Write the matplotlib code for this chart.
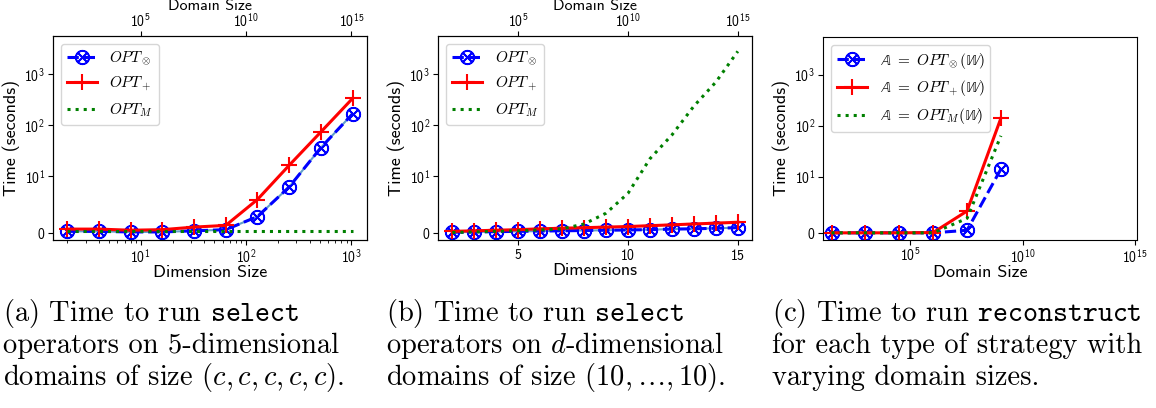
import numpy as np
import matplotlib
matplotlib.use('Agg')
import matplotlib.pyplot as plt
from matplotlib.ticker import FixedLocator, NullLocator

plt.rcParams['mathtext.fontset'] = 'cm'
plt.rcParams['axes.formatter.use_mathtext'] = True
plt.rcParams['font.family'] = ['cmss10', 'DejaVu Sans']
plt.rcParams['axes.unicode_minus'] = False

# (a) select on 5-dim domains of size (c,c,c,c,c)
dim_size = [2, 4, 8, 16, 32, 64, 128, 256, 512, 1024]
a_kron = [0.3, 0.3, 0.2, 0.2, 0.4, 0.6, 2.9, 8.1, 36, 165]
a_plus = [0.7, 0.7, 0.5, 0.6, 1.05, 1.35, 5.9, 16.3, 73, 330]
a_marg = [0.3, 0.3, 0.3, 0.3, 0.3, 0.3, 0.3, 0.3, 0.3, 0.3]

# (b) select on d-dim domains of size (10,...,10)
dims = [2, 3, 4, 5, 6, 7, 8, 9, 10, 11, 12, 13, 14, 15]
b_kron = [0.15, 0.2, 0.25, 0.3, 0.35, 0.4, 0.45, 0.5, 0.55, 0.6, 0.7, 0.75, 0.85, 0.95]
b_plus = [0.3, 0.4, 0.5, 0.6, 0.75, 0.85, 0.95, 1.05, 1.15, 1.3, 1.45, 1.6, 1.75, 1.9]
b_marg = [0.1, 0.2, 0.3, 0.4, 0.55, 0.75, 1.6, 3.5, 7.0, 22, 64, 234, 690, 2750]

# (c) reconstruct
dom_size = [2**5, 2**10, 2**15, 2**20, 2**25, 2**30]
c_kron = [0.05, 0.05, 0.05, 0.05, 0.5, 14]
c_plus = [0.05, 0.05, 0.05, 0.1, 3.9, 140]
c_marg = [0.05, 0.05, 0.05, 0.05, 2.6, 63]

blue, red, green = '#0000ff', '#ff0000', 'green'
otimes = r'$\otimes$'
YLIM = (-1.2, 5500)
LBL = 13

fig = plt.figure(figsize=(11.56, 4.08), dpi=100)
axa = fig.add_axes([0.0458, 0.412, 0.2715, 0.5])
axb = fig.add_axes([0.379, 0.412, 0.2716, 0.5])
axc = fig.add_axes([0.712, 0.412, 0.2716, 0.4975])


def style(ax):
    ax.set_yscale('symlog', linthresh=10)
    ax.set_ylim(*YLIM)
    ax.yaxis.set_major_locator(FixedLocator([0, 10, 100, 1000]))
    ax.yaxis.set_minor_locator(NullLocator())
    ax.set_ylabel('Time (seconds)', fontsize=LBL, labelpad=3)
    ax.tick_params(labelsize=10, pad=2)


def top_axis(ax, lo, hi):
    t = ax.twiny()
    t.set_xscale('log')
    t.set_xlim(lo, hi)
    t.xaxis.set_major_locator(FixedLocator([1e5, 1e10, 1e15]))
    t.xaxis.set_minor_locator(NullLocator())
    t.set_xlabel('Domain Size', fontsize=11.5, labelpad=1.5)
    t.tick_params(labelsize=10, pad=1)
    return t


# panel a
axa.plot(dim_size, a_kron, color='C0', lw=1.5, alpha=0.7)
axa.plot(dim_size, a_kron, color=blue, ls='--', lw=2.2, marker=otimes,
         ms=10, mfc='none', label=r'$OPT_\otimes$')
axa.plot(dim_size, a_plus, color=red, lw=2.2, marker='+', ms=11, mew=1.5,
         label=r'$OPT_+$')
axa.plot(dim_size, a_marg, color=green, ls=':', lw=2.2, label=r'$OPT_M$')
axa.set_xscale('log')
style(axa)
axa.set_xlabel('Dimension Size', fontsize=LBL, labelpad=0)
axa.legend(fontsize=11, loc='upper left')
lo, hi = axa.get_xlim()
top_axis(axa, lo**5, hi**5)

# panel b
axb.plot(dims, b_kron, color='C0', lw=1.5, alpha=0.7)
axb.plot(dims, b_kron, color=blue, ls='--', lw=2.2, marker=otimes,
         ms=10, mfc='none', label=r'$OPT_\otimes$')
axb.plot(dims, b_plus, color=red, lw=2.2, marker='+', ms=11, mew=1.5,
         label=r'$OPT_+$')
axb.plot(dims, b_marg, color=green, ls=':', lw=2.2, label=r'$OPT_M$')
style(axb)
axb.set_xticks([5, 10, 15])
axb.set_xlabel('Dimensions', fontsize=LBL, labelpad=0)
axb.legend(fontsize=11, loc='upper left')
lo, hi = axb.get_xlim()
top_axis(axb, 10**lo, 10**hi)

# panel c
axc.plot(dom_size, c_kron, color=blue, ls='--', lw=2.2, marker=otimes,
         ms=10, mfc='none', label=r'$\mathbb{A}\ =\ OPT_\otimes(\mathbb{W})$')
axc.plot(dom_size, c_plus, color=red, lw=2.2, marker='+', ms=11, mew=1.5,
         label=r'$\mathbb{A}\ =\ OPT_+(\mathbb{W})$')
axc.plot(dom_size, c_marg, color=green, ls=':', lw=2.2,
         label=r'$\mathbb{A}\ =\ OPT_M(\mathbb{W})$')
axc.set_xscale('log')
axc.set_xlim(right=1.2e15)
axc.xaxis.set_major_locator(FixedLocator([1e5, 1e10, 1e15]))
style(axc)
axc.set_xlabel('Domain Size', fontsize=LBL, labelpad=0)
axc.legend(fontsize=11, loc='upper left')

# captions
caps = [
    (0.003, ['(a) Time to run $\\mathtt{select}$',
             'operators on 5-dimensional',
             'domains of size $(c, c, c, c, c)$.']),
    (0.334, ['(b) Time to run $\\mathtt{select}$',
             'operators on $d$-dimensional',
             'domains of size $(10, \\ldots, 10)$.']),
    (0.668, ['(c) Time to run $\\mathtt{reconstruct}$',
             'for each type of strategy with',
             'varying domain sizes.']),
]
for x, lines in caps:
    for i, s in enumerate(lines):
        fig.text(x, 1 - (313 + 32.5 * i) / 408, s, fontsize=20.5,
                 family='cmr10', va='center', ha='left')

fig.savefig('out.png', dpi=100)
